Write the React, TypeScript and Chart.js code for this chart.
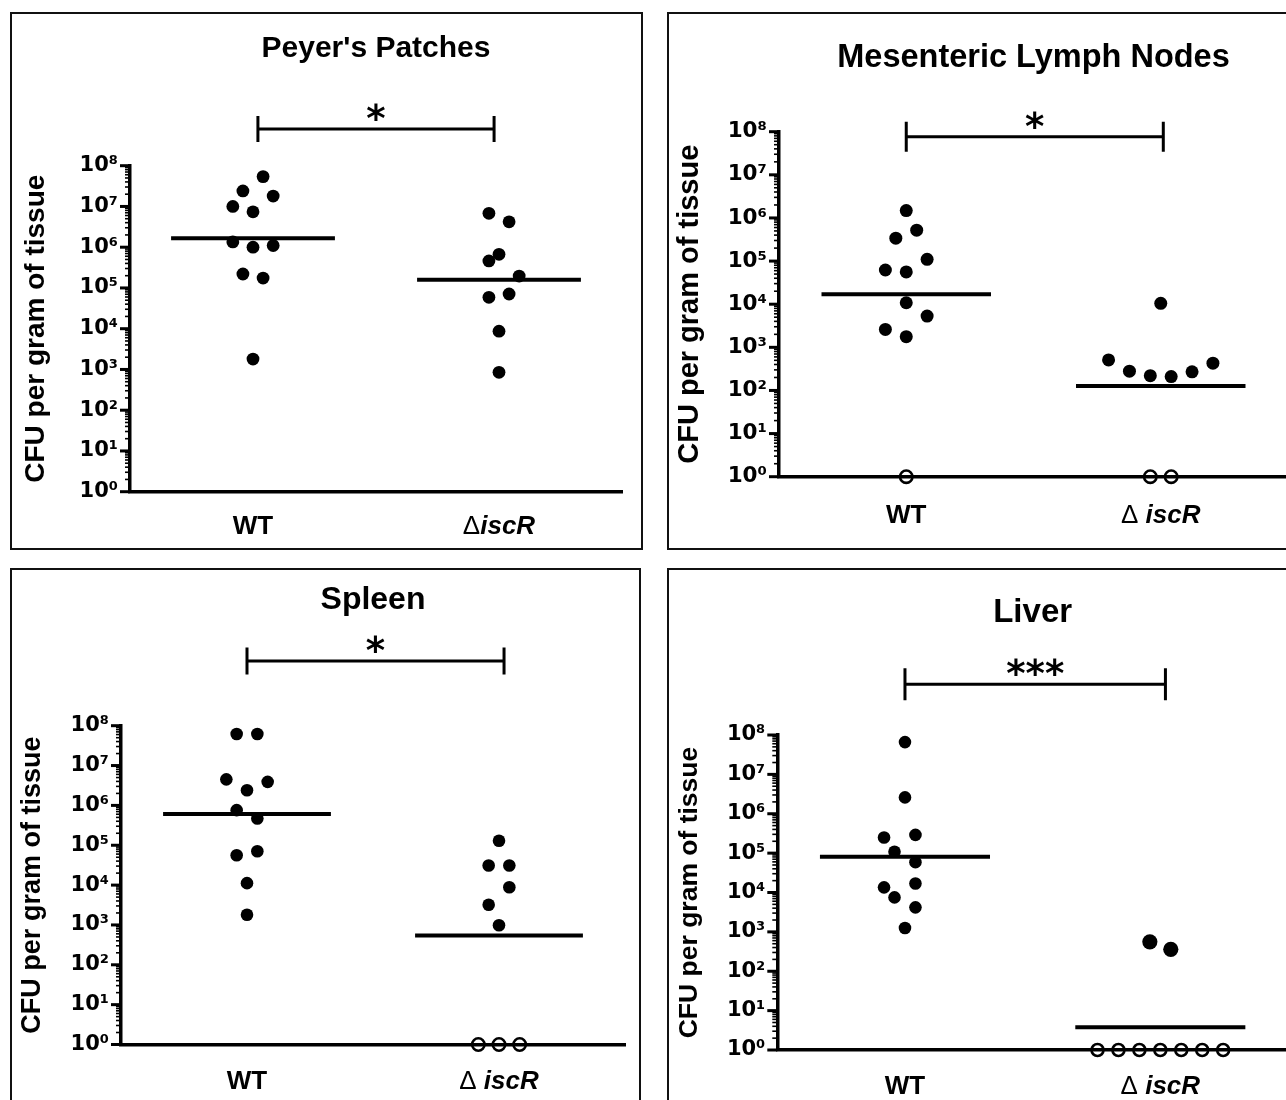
import React, { useEffect, useRef } from "react";
import { Chart, registerables } from "chart.js";

Chart.register(...registerables);

// ---------------- data ----------------
const Y_AXIS_TITLE = "CFU per gram of tissue";
const Y_MIN = 1;
const Y_MAX = 1e8;
const DECADE_EXPONENTS = [0, 1, 2, 3, 4, 5, 6, 7, 8];
const MINOR_MULTIPLIERS = [2, 3, 4, 5, 6, 7, 8, 9];
const SUPERSCRIPTS = ["⁰", "¹", "²", "³", "⁴", "⁵", "⁶", "⁷", "⁸"];
const CATEGORY_POSITIONS = [1, 2];
const ND_VALUE = 1; // not detected: drawn on the axis floor (10^0)

// Peyer's Patches
const PP_TITLE = "Peyer's Patches";
const PP_LABELS = ["WT", "ΔiscR"];
const PP_WT = [5.4e7, 2.4e7, 1.8e7, 1.0e7, 7.4e6, 1.35e6, 1.0e6, 1.1e6, 2.2e5, 1.75e5, 1.8e3];
const PP_WT_JITTER = [1, -1, 2, -2, 0, -2, 0, 2, -1, 1, 0];
const PP_KO = [6.8e6, 4.2e6, 6.7e5, 4.6e5, 1.96e5, 5.9e4, 7.1e4, 8.7e3, 8.5e2];
const PP_KO_JITTER = [-1, 1, 0, -1, 2, -1, 1, 0, 0];
const PP_WT_ND_JITTER: number[] = [];
const PP_KO_ND_JITTER: number[] = [];
const PP_MEDIANS = [1.66e6, 1.58e5];
const PP_BRACKET = [1.02, 1.98];
const PP_BRACKET_LEVEL = 7.9e8;
const PP_SIGNIF = "*";

// Mesenteric Lymph Nodes
const MLN_TITLE = "Mesenteric Lymph Nodes";
const MLN_LABELS = ["WT", "Δ iscR"];
const MLN_WT = [1.48e6, 5.2e5, 3.4e5, 1.1e5, 6.2e4, 5.6e4, 1.08e4, 5.3e3, 2.6e3, 1.77e3];
const MLN_WT_JITTER = [0, 1, -1, 2, -2, 0, 0, 2, -2, 0];
const MLN_KO = [1.05e4, 5.1e2, 2.8e2, 2.2e2, 2.1e2, 2.7e2, 4.3e2];
const MLN_KO_JITTER = [0, -5, -3, -1, 1, 3, 5];
const MLN_WT_ND_JITTER = [0];
const MLN_KO_ND_JITTER = [-1, 1];
const MLN_MEDIANS = [1.7e4, 1.26e2];
const MLN_BRACKET = [1.0, 2.01];
const MLN_BRACKET_LEVEL = 7.6e7;
const MLN_SIGNIF = "*";

// Spleen
const SP_TITLE = "Spleen";
const SP_LABELS = ["WT", "Δ iscR"];
const SP_WT = [6.2e7, 6.2e7, 4.5e6, 3.9e6, 2.4e6, 7.6e5, 4.7e5, 5.6e4, 7.1e4, 1.12e4, 1.8e3];
const SP_WT_JITTER = [-1, 1, -2, 2, 0, -1, 1, -1, 1, 0, 0];
const SP_KO = [1.3e5, 3.1e4, 3.1e4, 8.8e3, 3.2e3, 9.8e2];
const SP_KO_JITTER = [0, -1, 1, 1, -1, 0];
const SP_WT_ND_JITTER: number[] = [];
const SP_KO_ND_JITTER = [-2, 0, 2];
const SP_MEDIANS = [6.1e5, 5.4e2];
const SP_BRACKET = [1.0, 2.02];
const SP_BRACKET_LEVEL = 4.2e9;
const SP_SIGNIF = "*";

// Liver
const LV_TITLE = "Liver";
const LV_LABELS = ["WT", "Δ iscR"];
const LV_WT = [6.6e7, 2.6e6, 2.5e5, 2.9e5, 1.08e5, 5.9e4, 1.35e4, 1.7e4, 7.5e3, 4.2e3, 1.25e3];
const LV_WT_JITTER = [0, 0, -2, 1, -1, 1, -2, 1, -1, 1, 0];
const LV_KO = [5.6e2, 3.6e2];
const LV_KO_JITTER = [-1, 1];
const LV_WT_ND_JITTER: number[] = [];
const LV_KO_ND_JITTER = [-6, -4, -2, 0, 2, 4, 6];
const LV_MEDIANS = [8.1e4, 3.8];
const LV_BRACKET = [1.0, 2.02];
const LV_BRACKET_LEVEL = 1.95e9;
const LV_SIGNIF = "***";

// ---------------- layout / style ----------------
const TICK_FONT = "'DejaVu Sans', sans-serif";
const TEXT_FONT = "'Liberation Sans', Arial, sans-serif";
const JITTER_STEP = 0.041;
const MEDIAN_HALF = 0.333;

type Layout = {
  left: number; top: number; width: number; height: number;
  padTop: number; padRight: number; yAxisWidth: number; xAxisHeight: number;
  titleSize: number; titleBaseline: number;
  labelSize: number; labelBaseline: number;
  tickSize: number; yTitleSize: number; yTitlePad: number;
  dotRadius: number; koDotRadius: number; ndRadius: number;
  bracketHalf: number; starSize: number;
};

type Panel = {
  title: string; labels: string[];
  wt: number[]; wtJitter: number[]; ko: number[]; koJitter: number[];
  wtNd: number[]; koNd: number[]; medians: number[];
  bracket: number[]; bracketLevel: number; signif: string;
  layout: Layout;
};

const PANELS: Panel[] = [
  {
    title: PP_TITLE, labels: PP_LABELS, wt: PP_WT, wtJitter: PP_WT_JITTER, ko: PP_KO, koJitter: PP_KO_JITTER,
    wtNd: PP_WT_ND_JITTER, koNd: PP_KO_ND_JITTER, medians: PP_MEDIANS, bracket: PP_BRACKET,
    bracketLevel: PP_BRACKET_LEVEL, signif: PP_SIGNIF,
    layout: { left: 10, top: 12, width: 633, height: 538, padTop: 151.7, padRight: 19, yAxisWidth: 118, xAxisHeight: 56.3,
      titleSize: 30, titleBaseline: 43, labelSize: 26, labelBaseline: 520, tickSize: 21, yTitleSize: 28, yTitlePad: 7.2,
      dotRadius: 6.4, koDotRadius: 6.4, ndRadius: 6, bracketHalf: 13, starSize: 37 },
  },
  {
    title: MLN_TITLE, labels: MLN_LABELS, wt: MLN_WT, wtJitter: MLN_WT_JITTER, ko: MLN_KO, koJitter: MLN_KO_JITTER,
    wtNd: MLN_WT_ND_JITTER, koNd: MLN_KO_ND_JITTER, medians: MLN_MEDIANS, bracket: MLN_BRACKET,
    bracketLevel: MLN_BRACKET_LEVEL, signif: MLN_SIGNIF,
    layout: { left: 667, top: 12, width: 640, height: 538, padTop: 117.7, padRight: 17, yAxisWidth: 110, xAxisHeight: 71.3,
      titleSize: 32.5, titleBaseline: 53, labelSize: 26, labelBaseline: 509, tickSize: 21.5, yTitleSize: 29, yTitlePad: 3.6,
      dotRadius: 6.5, koDotRadius: 6.5, ndRadius: 6.2, bracketHalf: 15, starSize: 37 },
  },
  {
    title: SP_TITLE, labels: SP_LABELS, wt: SP_WT, wtJitter: SP_WT_JITTER, ko: SP_KO, koJitter: SP_KO_JITTER,
    wtNd: SP_WT_ND_JITTER, koNd: SP_KO_ND_JITTER, medians: SP_MEDIANS, bracket: SP_BRACKET,
    bracketLevel: SP_BRACKET_LEVEL, signif: SP_SIGNIF,
    layout: { left: 10, top: 568, width: 631, height: 560, padTop: 155.7, padRight: 14, yAxisWidth: 109, xAxisHeight: 81.5,
      titleSize: 32, titleBaseline: 39, labelSize: 26, labelBaseline: 519, tickSize: 21, yTitleSize: 27, yTitlePad: 4.8,
      dotRadius: 6.3, koDotRadius: 6.3, ndRadius: 6.2, bracketHalf: 13.5, starSize: 37 },
  },
  {
    title: LV_TITLE, labels: LV_LABELS, wt: LV_WT, wtJitter: LV_WT_JITTER, ko: LV_KO, koJitter: LV_KO_JITTER,
    wtNd: LV_WT_ND_JITTER, koNd: LV_KO_ND_JITTER, medians: LV_MEDIANS, bracket: LV_BRACKET,
    bracketLevel: LV_BRACKET_LEVEL, signif: LV_SIGNIF,
    layout: { left: 667, top: 568, width: 640, height: 560, padTop: 165, padRight: 17, yAxisWidth: 108.3, xAxisHeight: 76,
      titleSize: 33, titleBaseline: 52, labelSize: 26, labelBaseline: 524, tickSize: 21, yTitleSize: 26.5, yTitlePad: 5.1,
      dotRadius: 6.3, koDotRadius: 7.6, ndRadius: 6, bracketHalf: 16, starSize: 37 },
  },
];

const toPoints = (values: number[], jitter: number[], cat: number) =>
  values.map((v, i) => ({ x: cat + jitter[i] * JITTER_STEP, y: v }));
const ndPoints = (jitter: number[], cat: number) =>
  jitter.map((j) => ({ x: cat + j * JITTER_STEP, y: ND_VALUE }));

function drawCategoryLabel(ctx: CanvasRenderingContext2D, label: string, cx: number, baseline: number, size: number) {
  ctx.textBaseline = "alphabetic";
  ctx.textAlign = "left";
  if (label.startsWith("Δ")) {
    const head = "Δ";
    const rest = label.slice(1);
    const headFont = `normal ${size}px ${TEXT_FONT}`;
    const restFont = `italic bold ${size}px ${TEXT_FONT}`;
    ctx.font = headFont;
    const w1 = ctx.measureText(head).width;
    ctx.font = restFont;
    const w2 = ctx.measureText(rest).width;
    const start = cx - (w1 + w2) / 2;
    ctx.font = headFont;
    ctx.fillText(head, start, baseline);
    ctx.font = restFont;
    ctx.fillText(rest, start + w1, baseline);
  } else {
    ctx.font = `bold ${size}px ${TEXT_FONT}`;
    ctx.textAlign = "center";
    ctx.fillText(label, cx, baseline);
  }
}

function decorPlugin(p: Panel) {
  const L = p.layout;
  return {
    id: "panelDecor",
    afterDraw(chart: any) {
      const { ctx, chartArea: ca, scales } = chart;
      const xs = scales.x;
      const ys = scales.y;
      ctx.save();
      ctx.strokeStyle = "#000";
      ctx.fillStyle = "#000";
      ctx.lineCap = "butt";
      // y tick marks (major / minor)
      for (const t of ys.ticks) {
        const py = ys.getPixelForValue(t.value);
        ctx.lineWidth = t.major ? 3 : 1.6;
        ctx.beginPath();
        ctx.moveTo(ca.left, py);
        ctx.lineTo(ca.left - (t.major ? 10 : 5), py);
        ctx.stroke();
      }
      // panel title
      ctx.font = `bold ${L.titleSize}px ${TEXT_FONT}`;
      ctx.textAlign = "center";
      ctx.textBaseline = "alphabetic";
      ctx.fillText(p.title, (ca.left + ca.right) / 2, L.titleBaseline);
      // category labels
      p.labels.forEach((lab, i) => {
        drawCategoryLabel(ctx, lab, xs.getPixelForValue(CATEGORY_POSITIONS[i]), L.labelBaseline, L.labelSize);
      });
      // significance bracket
      const bx1 = xs.getPixelForValue(p.bracket[0]);
      const bx2 = xs.getPixelForValue(p.bracket[1]);
      const by = ys.getPixelForValue(p.bracketLevel);
      const h = L.bracketHalf;
      ctx.lineWidth = 3;
      ctx.beginPath();
      ctx.moveTo(bx1, by - h);
      ctx.lineTo(bx1, by + h);
      ctx.moveTo(bx1, by);
      ctx.lineTo(bx2, by);
      ctx.moveTo(bx2, by - h);
      ctx.lineTo(bx2, by + h);
      ctx.stroke();
      ctx.font = `bold ${L.starSize}px ${TICK_FONT}`;
      ctx.textAlign = "center";
      ctx.textBaseline = "alphabetic";
      ctx.fillText(p.signif, (bx1 + bx2) / 2, by + 2);
      ctx.restore();
    },
  };
}

function buildConfig(p: Panel): any {
  const L = p.layout;
  const filled = (data: any[], r: number) => ({
    data, pointRadius: r, pointHoverRadius: r, backgroundColor: "#000", borderColor: "#000", borderWidth: 0, clip: false,
  });
  const median = (cat: number, value: number) => ({
    data: [{ x: cat - MEDIAN_HALF, y: value }, { x: cat + MEDIAN_HALF, y: value }],
    showLine: true, pointRadius: 0, borderColor: "#000", borderWidth: 4, clip: false,
  });
  return {
    type: "scatter",
    data: {
      datasets: [
        filled(toPoints(p.wt, p.wtJitter, CATEGORY_POSITIONS[0]), L.dotRadius),
        filled(toPoints(p.ko, p.koJitter, CATEGORY_POSITIONS[1]), L.koDotRadius),
        {
          data: [...ndPoints(p.wtNd, CATEGORY_POSITIONS[0]), ...ndPoints(p.koNd, CATEGORY_POSITIONS[1])],
          pointRadius: L.ndRadius, pointHoverRadius: L.ndRadius, backgroundColor: "rgba(255,255,255,0)",
          borderColor: "#000", borderWidth: 2.6, clip: false,
        },
        median(CATEGORY_POSITIONS[0], p.medians[0]),
        median(CATEGORY_POSITIONS[1], p.medians[1]),
      ],
    },
    options: {
      responsive: false,
      animation: false,
      devicePixelRatio: 1,
      events: [],
      layout: { padding: { left: 0, top: L.padTop, right: L.padRight, bottom: 0 } },
      plugins: { legend: { display: false }, tooltip: { enabled: false }, title: { display: false } },
      scales: {
        x: {
          type: "linear",
          min: 0.5,
          max: 2.5,
          afterBuildTicks: (s: any) => { s.ticks = CATEGORY_POSITIONS.map((v) => ({ value: v })); },
          afterFit: (s: any) => { s.height = L.xAxisHeight; },
          grid: { display: false, drawTicks: false },
          ticks: { display: false },
          border: { display: true, color: "#000", width: 3.5 },
        },
        y: {
          type: "logarithmic",
          min: Y_MIN,
          max: Y_MAX,
          afterBuildTicks: (s: any) => {
            const ticks: any[] = [];
            DECADE_EXPONENTS.forEach((e) => {
              ticks.push({ value: Math.pow(10, e), major: true });
              if (e < DECADE_EXPONENTS[DECADE_EXPONENTS.length - 1]) {
                MINOR_MULTIPLIERS.forEach((m) => ticks.push({ value: m * Math.pow(10, e), major: false }));
              }
            });
            s.ticks = ticks;
          },
          afterFit: (s: any) => { s.width = L.yAxisWidth; },
          grid: { display: false, drawTicks: false },
          border: { display: true, color: "#000", width: 3.5 },
          ticks: {
            autoSkip: false,
            padding: 12,
            color: "#000",
            font: { family: TICK_FONT, size: L.tickSize, weight: "bold" },
            callback: (value: number, index: number, ticks: any[]) =>
              ticks[index] && ticks[index].major ? "10" + SUPERSCRIPTS[Math.round(Math.log10(value))] : "",
          },
          title: {
            display: true,
            text: Y_AXIS_TITLE,
            color: "#000",
            font: { family: TEXT_FONT, size: L.yTitleSize, weight: "bold" },
            padding: { top: L.yTitlePad, bottom: 0 },
          },
        },
      },
    },
    plugins: [decorPlugin(p)],
  };
}

function PanelChart({ panel }: { panel: Panel }) {
  const ref = useRef<HTMLCanvasElement | null>(null);
  const L = panel.layout;
  useEffect(() => {
    if (!ref.current) return;
    const chart = new Chart(ref.current, buildConfig(panel));
    return () => chart.destroy();
  }, [panel]);
  return (
    <div
      style={{
        position: "absolute", left: L.left, top: L.top, width: L.width, height: L.height,
        border: "2px solid #111", boxSizing: "border-box", background: "#fff",
      }}
    >
      <canvas
        ref={ref}
        width={L.width - 4}
        height={L.height - 4}
        style={{ display: "block", width: L.width - 4, height: L.height - 4 }}
      />
    </div>
  );
}

export default function App() {
  return (
    <div
      style={{
        position: "absolute", left: 0, top: 0, width: 1286, height: 1100, overflow: "hidden", background: "#fff",
      }}
    >
      {PANELS.map((p, i) => (
        <PanelChart key={i} panel={p} />
      ))}
    </div>
  );
}
